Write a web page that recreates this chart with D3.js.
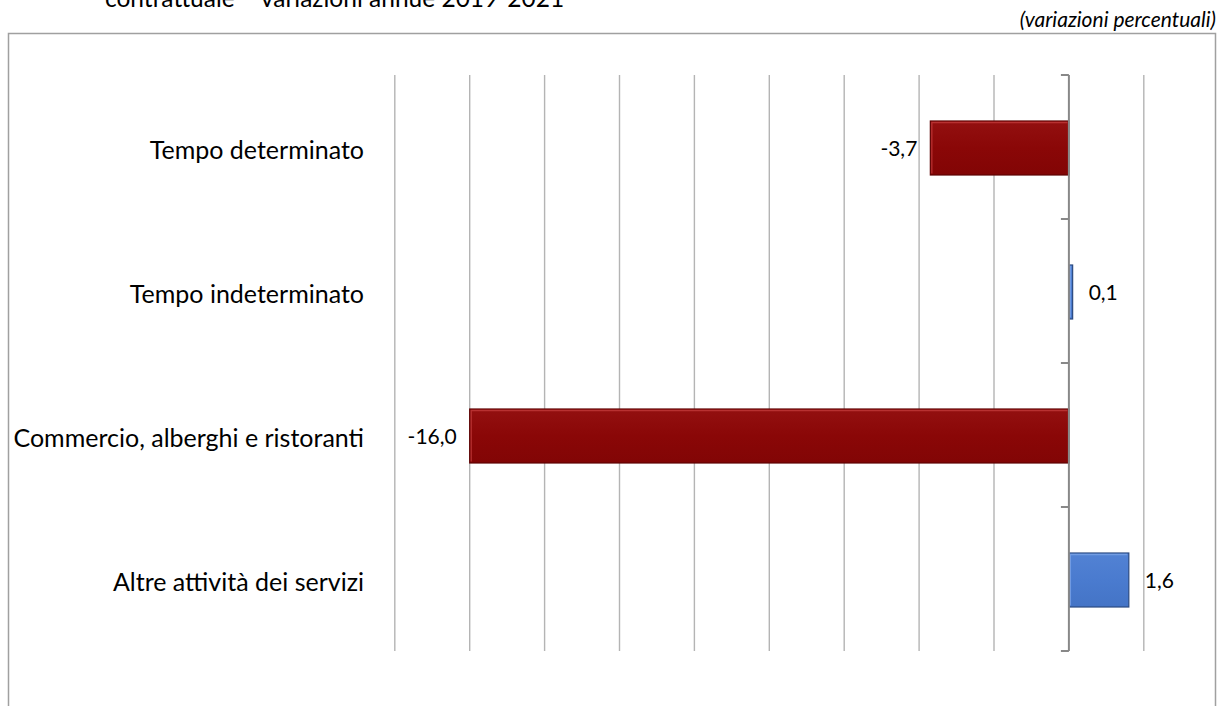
<!DOCTYPE html>
<html>
<head>
<meta charset="utf-8">
<script src="https://cdn.jsdelivr.net/npm/d3@7"></script>
<style>
  html, body { margin: 0; padding: 0; background: #fff; }
  svg { display: block; }
  text { font-family: Lato, "Open Sans", sans-serif; fill: #000; }
</style>
</head>
<body>
<svg id="chart" width="1220" height="706"></svg>
<script>
// Occupati per settore e tipologia contrattuale, variazioni percentuali
const categories = [
  "Tempo determinato",
  "Tempo indeterminato",
  "Commercio, alberghi e ristoranti",
  "Altre attività dei servizi"
];
const values = [-3.7, 0.1, -16.0, 1.6];
const gridTicks = [-18, -16, -14, -12, -10, -8, -6, -4, -2, 0, 2];
const titleText = "contrattuale \u2013 variazioni annue 2019-2021";
const unitText = "(variazioni percentuali)";

const svg = d3.select("#chart");
const fmt = v => d3.format(".1f")(v).replace(".", ",").replace("\u2212", "-");

// Title line (partly outside the top edge) and unit note
svg.append("text")
  .attr("x", 105).attr("y", 7)
  .style("font-size", "24.5px")
  .text(titleText);

svg.append("text")
  .attr("x", 1216).attr("y", 27)
  .attr("text-anchor", "end")
  .style("font-size", "21px")
  .style("font-style", "italic")
  .text(unitText);

// Chart frame
svg.append("path")
  .attr("d", "M8.5,712 V33.5 H1215.5 V712")
  .attr("fill", "none")
  .attr("stroke", "#a0a0a0")
  .attr("stroke-width", 1.5);

// Scales
const x = d3.scaleLinear().domain([-18, 2]).range([394.8, 1143.8]);
const y = d3.scaleBand().domain(categories).range([75, 651]).padding(0);
const barH = y.bandwidth() * 0.375;

// Vertical gridlines
svg.append("g")
  .selectAll("line")
  .data(gridTicks.filter(d => d !== 0))
  .join("line")
  .attr("x1", d => x(d)).attr("x2", d => x(d))
  .attr("y1", y.range()[0]).attr("y2", y.range()[1])
  .attr("stroke", "#b4b4b4")
  .attr("stroke-width", 1.4);

// Bars
const defs = svg.append("defs");
const grads = [
  { id: "gNeg", top: "#931010", mid: "#8a0707", bot: "#820505" },
  { id: "gPos", top: "#5282d4", mid: "#4a7bcf", bot: "#4474c6" }
];
grads.forEach(g => {
  const lg = defs.append("linearGradient").attr("id", g.id)
    .attr("x1", 0).attr("y1", 0).attr("x2", 0).attr("y2", 1);
  lg.append("stop").attr("offset", 0).attr("stop-color", g.top);
  lg.append("stop").attr("offset", 0.5).attr("stop-color", g.mid);
  lg.append("stop").attr("offset", 1).attr("stop-color", g.bot);
});

const rows = categories.map((c, i) => ({ cat: c, val: values[i] }));

const bars = svg.append("g").selectAll("g").data(rows).join("g");

bars.append("rect")
  .attr("x", d => x(Math.min(0, d.val)))
  .attr("width", d => Math.abs(x(d.val) - x(0)))
  .attr("y", d => y(d.cat) + (y.bandwidth() - barH) / 2 + 1)
  .attr("height", barH)
  .attr("fill", d => d.val < 0 ? "url(#gNeg)" : "url(#gPos)")
  .attr("stroke", d => d.val < 0 ? "#5e0303" : "#2b4a80")
  .attr("stroke-width", 1.2);

// Bevel highlight along the top and left edges
bars.append("path")
  .attr("d", d => {
    const x0 = x(Math.min(0, d.val)) + 1.5;
    const x1 = x(Math.max(0, d.val)) - 1.5;
    const y0 = y(d.cat) + (y.bandwidth() - barH) / 2 + 2.5;
    const y1 = y0 + barH - 3;
    return `M${x0},${y1} V${y0} H${x1}`;
  })
  .attr("fill", "none")
  .attr("stroke", d => d.val < 0 ? "#c23a3a" : "#7aa3e6")
  .attr("stroke-width", 1.3)
  .attr("opacity", 0.8);

// Value labels
bars.append("text")
  .attr("x", d => d.val < 0 ? x(d.val) - 13 : x(d.val) + 16)
  .attr("y", d => y(d.cat) + y.bandwidth() / 2 + 2)
  .attr("dy", "0.35em")
  .attr("text-anchor", d => d.val < 0 ? "end" : "start")
  .style("font-size", "21px")
  .text(d => fmt(d.val));

// Category axis at zero
const axis = svg.append("g").attr("transform", `translate(${x(0)},0)`);
axis.append("line")
  .attr("y1", y.range()[0]).attr("y2", y.range()[1])
  .attr("stroke", "#888").attr("stroke-width", 2);
const tickPos = categories.map(c => y(c)).concat([y.range()[1]]);
axis.selectAll("line.tick")
  .data(tickPos)
  .join("line")
  .attr("class", "tick")
  .attr("x1", -8).attr("x2", 0)
  .attr("y1", d => d).attr("y2", d => d)
  .attr("stroke", "#888").attr("stroke-width", 2);

// Category labels
svg.append("g").selectAll("text")
  .data(categories)
  .join("text")
  .attr("x", 364)
  .attr("y", d => y(d) + y.bandwidth() / 2 + 3)
  .attr("dy", "0.35em")
  .attr("text-anchor", "end")
  .style("font-size", "25px")
  .text(d => d);
</script>
</body>
</html>
